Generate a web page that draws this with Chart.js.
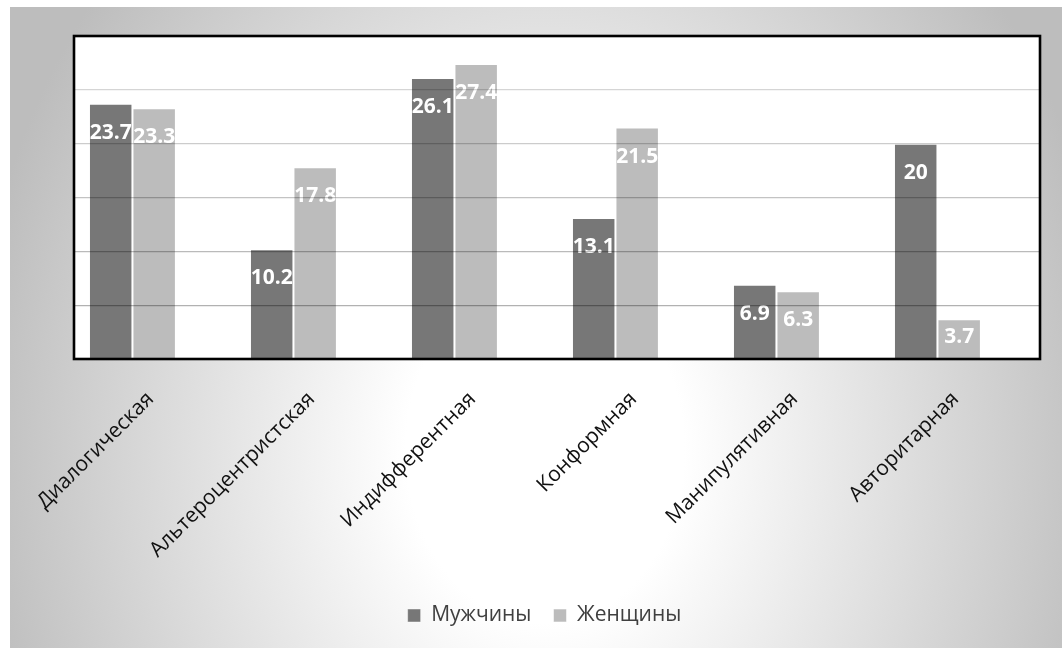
<!DOCTYPE html>
<html lang="ru">
<head>
<meta charset="utf-8">
<script src="https://cdn.jsdelivr.net/npm/chart.js"></script>
<style>
  html, body { margin: 0; padding: 0; background: #fff; overflow: hidden; }
  #fon {
    position: absolute; left: 10px; top: 7px; width: 1060px; height: 650px;
    background: radial-gradient(ellipse 580px 720px at 535px 443px, #ffffff 24%, #bdbdbd 100%);
  }
  #wrap { position: absolute; left: 0; top: 0; width: 1062px; height: 648px; }
</style>
</head>
<body>
<div id="fon"></div>
<div id="wrap"><canvas id="grafik"></canvas></div>
<script>
// данные диаграммы
const categories = ['Диалогическая', 'Альтероцентристская', 'Индифферентная', 'Конформная', 'Манипулятивная', 'Авторитарная'];
const seriesNames = ['Мужчины', 'Женщины'];
const muzhchiny = [23.7, 10.2, 26.1, 13.1, 6.9, 20];
const zhenshchiny = [23.3, 17.8, 27.4, 21.5, 6.3, 3.7];
const yTicks = [0, 5, 10, 15, 20, 25, 30];

const FONT = '"Open Sans", "DejaVu Sans", sans-serif';

// точки для линейной оси x (индекс категории -> значение)
const toPoints = arr => arr.map((v, i) => ({ x: i, y: v }));

// белый фон области построения и чёрная рамка
const ramka = {
  id: 'ramka',
  beforeDraw(chart) {
    const { ctx, chartArea: a } = chart;
    ctx.save();
    ctx.fillStyle = '#fff';
    ctx.fillRect(a.left, a.top, a.right - a.left, a.bottom - a.top);
    ctx.restore();
  },
  afterDraw(chart) {
    const { ctx, chartArea: a } = chart;
    ctx.save();
    ctx.strokeStyle = '#000';
    ctx.lineWidth = 2.6;
    ctx.strokeRect(a.left, a.top, a.right - a.left, a.bottom - a.top);
    ctx.restore();
  }
};

// подписи значений внутри столбцов
const podpisi = {
  id: 'podpisi',
  afterDatasetsDraw(chart) {
    const { ctx } = chart;
    ctx.save();
    ctx.font = 'bold 21px ' + FONT;
    ctx.fillStyle = '#fff';
    ctx.textAlign = 'center';
    ctx.textBaseline = 'middle';
    chart.data.datasets.forEach((ds, di) => {
      chart.getDatasetMeta(di).data.forEach((bar, i) => {
        const y = Math.min(bar.y + 29, bar.base - 21);
        ctx.fillText(String(ds.data[i].y), bar.x, y);
      });
    });
    ctx.restore();
  }
};

new Chart(document.getElementById('grafik'), {
  type: 'bar',
  data: {
    datasets: [{
      label: seriesNames[0],
      data: toPoints(muzhchiny),
      backgroundColor: '#777777',
      borderColor: 'rgba(255,255,255,0.45)',
      borderWidth: 1
    }, {
      label: seriesNames[1],
      data: toPoints(zhenshchiny),
      backgroundColor: '#bcbcbc',
      borderColor: 'rgba(255,255,255,0.55)',
      borderWidth: 1
    }]
  },
  options: {
    responsive: true,
    maintainAspectRatio: false,
    animation: false,
    layout: { padding: { left: 49, right: 22, top: 36, bottom: 12 } },
    datasets: { bar: { categoryPercentage: 0.54, barPercentage: 1.0 } },
    plugins: {
      tooltip: { enabled: false },
      legend: {
        position: 'bottom',
        labels: {
          boxWidth: 13, boxHeight: 13, padding: 22,
          color: '#404040',
          font: { family: FONT, size: 21 }
        }
      }
    },
    scales: {
      x: {
        type: 'linear',
        offset: false,
        min: -0.363, max: 5.637,
        afterBuildTicks: s => { s.ticks = categories.map((c, i) => ({ value: i })); },
        afterFit: s => { s.height = 224; s.paddingLeft = 0; s.paddingRight = 0; },
        grid: { display: false, drawTicks: false },
        border: { display: false },
        ticks: {
          autoSkip: false,
          minRotation: 45, maxRotation: 45,
          labelOffset: 18,
          padding: 28,
          color: '#111',
          font: { family: FONT, size: 21 },
          callback: v => categories[v]
        }
      },
      y: {
        min: 0, max: 30,
        afterBuildTicks: s => { s.ticks = yTicks.map(v => ({ value: v })); },
        afterFit: s => { s.width = 25; },
        border: { display: false },
        grid: {
          z: 1,
          drawTicks: false,
          lineWidth: 1.3,
          color: c => 'rgba(0,0,0,' + (0.34 - (c.tick ? c.tick.value : 0) * 0.007).toFixed(3) + ')'
        },
        ticks: { display: false }
      }
    }
  },
  plugins: [ramka, podpisi]
});
</script>
</body>
</html>
